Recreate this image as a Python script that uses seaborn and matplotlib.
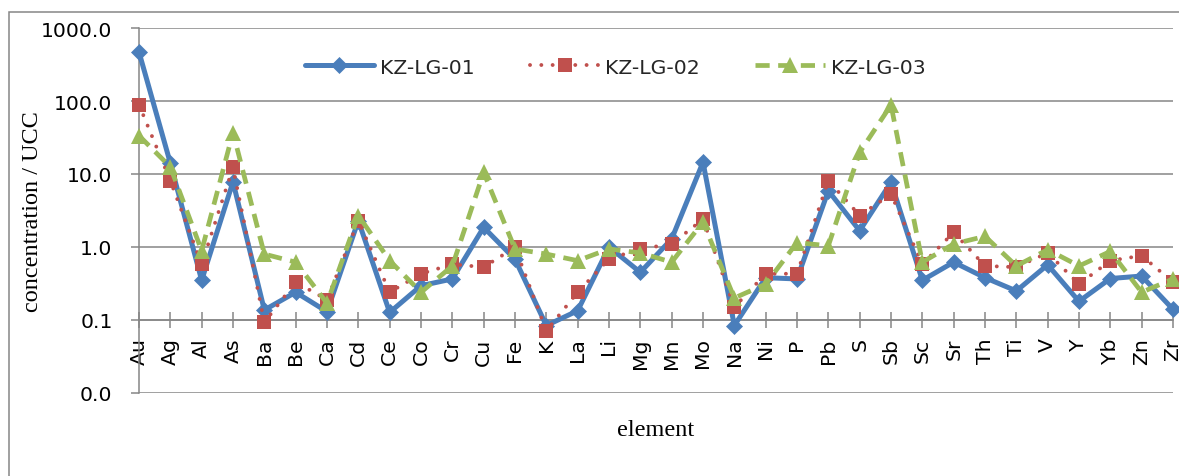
import numpy as np
import pandas as pd
import matplotlib
matplotlib.use("Agg")
import matplotlib.pyplot as plt
import seaborn as sns
from matplotlib.ticker import FixedLocator, FuncFormatter, NullLocator
from matplotlib.patches import Rectangle

elements = ["Au", "Ag", "Al", "As", "Ba", "Be", "Ca", "Cd", "Ce", "Co", "Cr", "Cu",
            "Fe", "K", "La", "Li", "Mg", "Mn", "Mo", "Na", "Ni", "P", "Pb", "S",
            "Sb", "Sc", "Sr", "Th", "Ti", "V", "Y", "Yb", "Zn", "Zr"]
kz01 = [468, 14.1, 0.35, 7.8, 0.137, 0.24, 0.13, 2.3, 0.127, 0.295, 0.365, 1.86,
        0.68, 0.084, 0.134, 1.0, 0.45, 1.29, 14.5, 0.084, 0.38, 0.365, 5.9, 1.67,
        7.7, 0.35, 0.62, 0.38, 0.25, 0.57, 0.18, 0.37, 0.40, 0.14]
kz02 = [89, 8.1, 0.58, 12.3, 0.093, 0.33, 0.19, 2.3, 0.24, 0.43, 0.58, 0.53,
        0.99, 0.071, 0.24, 0.685, 0.94, 1.1, 2.4, 0.15, 0.43, 0.43, 8.1, 2.7,
        5.3, 0.58, 1.59, 0.55, 0.53, 0.83, 0.31, 0.65, 0.76, 0.33]
kz03 = [33.5, 12.5, 0.89, 37, 0.80, 0.62, 0.17, 2.7, 0.65, 0.24, 0.55, 10.5,
        0.94, 0.80, 0.65, 0.94, 0.83, 0.62, 2.2, 0.20, 0.31, 1.15, 1.04, 19.8,
        88, 0.62, 1.1, 1.4, 0.55, 0.92, 0.55, 0.87, 0.24, 0.365]
series_names = ["KZ-LG-01", "KZ-LG-02", "KZ-LG-03"]
y_ticks = [0.01, 0.1, 1, 10, 100, 1000]

sns.set_theme(style="white")
plt.rcParams['font.family'] = ['DejaVu Sans']

W, H = 1179, 477
fig = plt.figure(figsize=(W / 100, H / 100), dpi=100)
ax = fig.add_axes([139 / W, (H - 394) / H, (1173 - 139) / W, (394 - 29) / H])

df = pd.DataFrame({"pos": np.arange(len(elements)), "element": elements,
                   series_names[0]: kz01, series_names[1]: kz02, series_names[2]: kz03})

grid_col = "#868686"
styles = [
    dict(color="#4A7EBB", linestyle="-", lw=3.6, marker="D", markersize=8.5,
         markeredgewidth=0.5, markeredgecolor="#4A7EBB"),
    dict(color="#C0504D", linestyle=(0, (0.01, 2.9)), lw=2.8, marker="s", markersize=10.5,
         markeredgewidth=0, dash_capstyle="round"),
    dict(color="#9BBB59", linestyle=(0, (3.0, 1.8)), lw=3.4, marker="^", markersize=11,
         markeredgewidth=0, dash_capstyle="butt"),
]
for i, (name, st) in enumerate(zip(series_names, styles)):
    sns.lineplot(data=df, x="pos", y=name, ax=ax, label=name, errorbar=None,
                 clip_on=False, zorder=3 + i, **st)

ax.set_yscale("log")
ax.set_xlim(0, len(elements) - 1)
ax.set_ylim(0.01, 1000)

ax.yaxis.set_major_locator(FixedLocator(y_ticks))
ax.yaxis.set_minor_locator(NullLocator())
ax.yaxis.set_major_formatter(FuncFormatter(lambda v, p: f"{v:.1f}"))
ax.set_xticks(df["pos"])
ax.set_xticklabels(elements)

ax.yaxis.grid(True, color=grid_col, lw=1.1)
ax.xaxis.grid(False)
for s in ["top", "right"]:
    ax.spines[s].set_visible(False)
ax.spines["left"].set_color(grid_col)
ax.spines["left"].set_linewidth(1.1)
ax.spines["bottom"].set_position(("data", 0.1))
ax.spines["bottom"].set_color(grid_col)
ax.spines["bottom"].set_linewidth(1.1)

ax.tick_params(axis="y", which="major", left=True, direction="out", length=6,
               width=1.1, color=grid_col, labelsize=14.7, pad=13, labelcolor="black")
ax.tick_params(axis="x", which="major", bottom=True, direction="inout", length=12,
               width=1.1, color=grid_col, labelsize=14.7, pad=6.5, labelrotation=90,
               labelcolor="black")

ax.set_xlabel("element", family="Liberation Serif", fontsize=17.5, color="black")
ax.xaxis.set_label_coords(0.5, (394 - 431) / 365)
ax.xaxis.label.set_va("center")
ax.set_ylabel("concentration / UCC", family="Liberation Serif", fontsize=17.5, color="black")
ax.yaxis.set_label_coords((32.5 - 139) / 1034, 0.5)
ax.yaxis.label.set_va("center")

handles, labels = ax.get_legend_handles_labels()
ax.legend(handles, labels, loc="center", bbox_to_anchor=((615 - 139) / 1034, (394 - 68) / 365),
          ncol=3, frameon=False, fontsize=14.7, handlelength=3.4, handletextpad=0.3,
          columnspacing=2.7, numpoints=1)

fig.add_artist(Rectangle((9 / W, -0.2), 2, (H - 13) / H + 0.2, transform=fig.transFigure,
                         fill=False, edgecolor=grid_col, lw=1.1))

fig.savefig("out.png", dpi=100)
